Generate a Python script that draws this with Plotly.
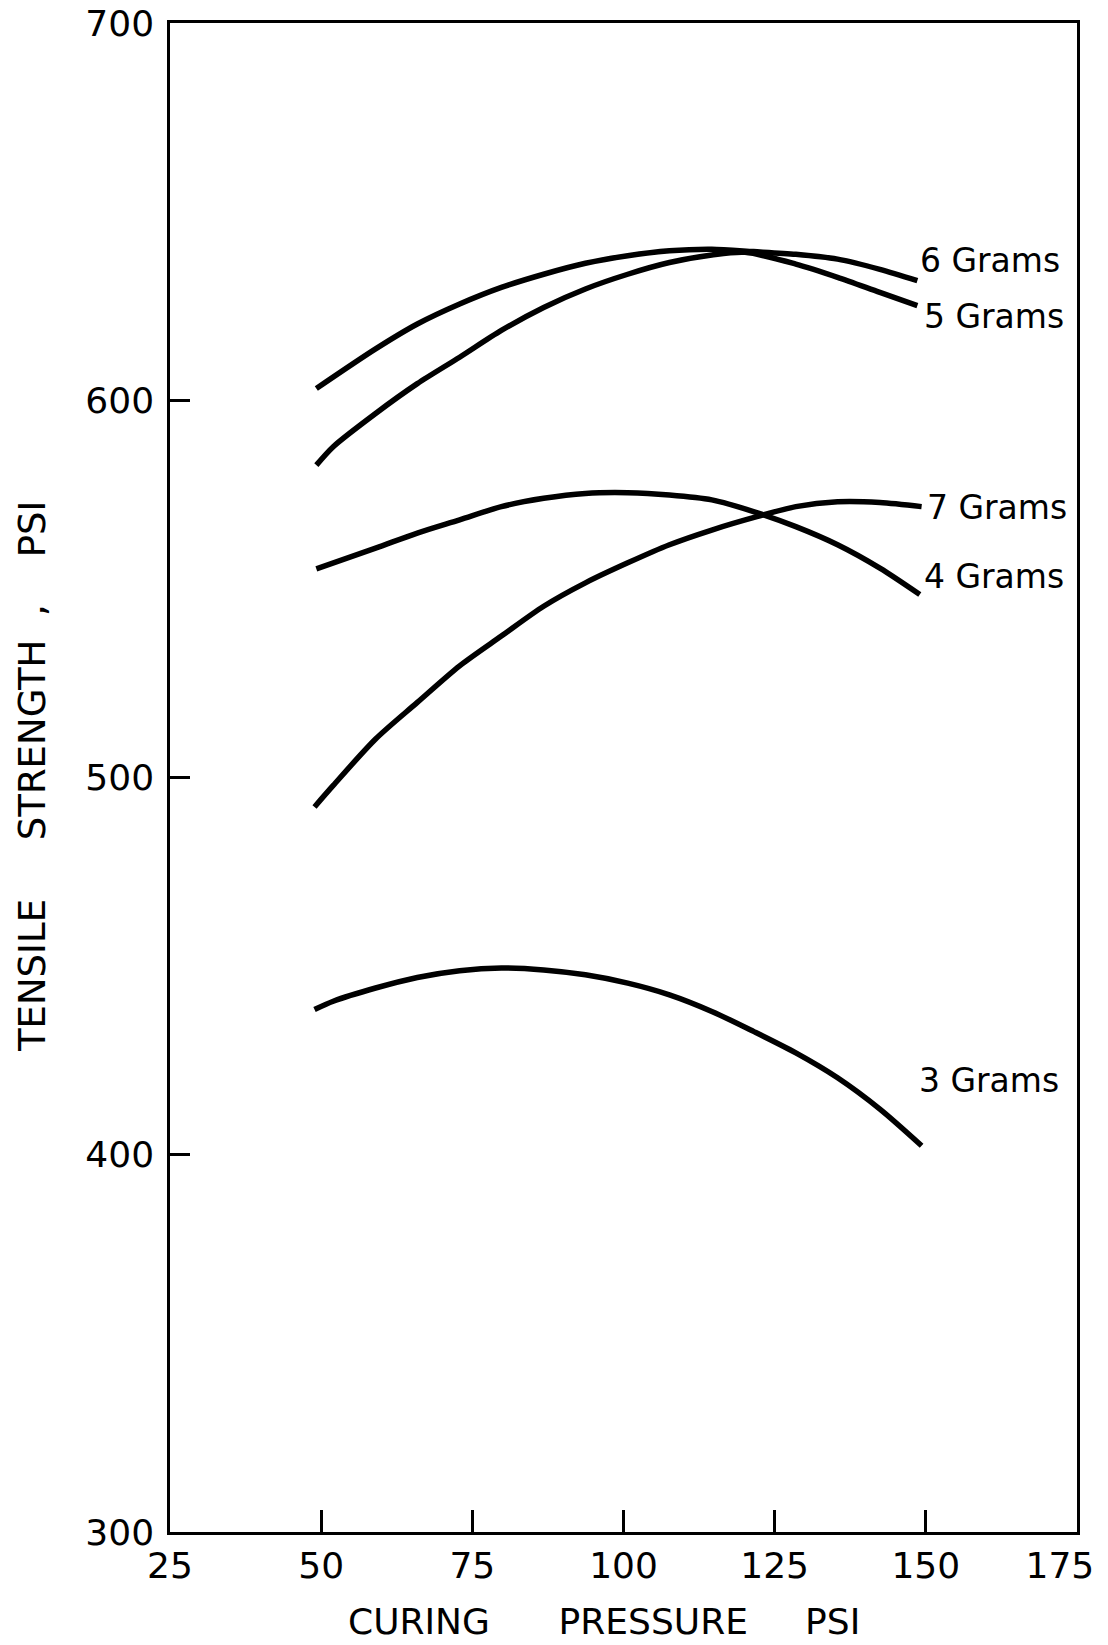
import plotly.graph_objects as go

# ---- data ----
x_3g = [48.9, 52.0, 59.0, 65.9, 72.9, 79.8, 86.8, 93.7, 100.7, 107.6, 114.6, 121.5, 128.5, 135.4, 142.4, 149.3]
y_3g = [438.5, 440.7, 444.2, 447.0, 448.8, 449.5, 449.0, 447.7, 445.5, 442.4, 438.0, 432.7, 427.0, 420.4, 412.1, 402.4]

x_4g = [49.2, 59.0, 65.9, 72.9, 79.8, 86.8, 93.7, 100.7, 107.6, 114.6, 121.5, 128.5, 135.4, 142.4, 149.0]
y_4g = [555.3, 560.8, 564.8, 568.3, 571.8, 574.0, 575.3, 575.5, 574.9, 573.6, 570.5, 566.5, 561.7, 555.5, 548.5]

x_5g = [49.2, 52.0, 59.0, 65.9, 72.9, 79.8, 86.8, 93.7, 100.7, 107.6, 114.6, 120.1, 128.5, 135.4, 142.4, 148.6]
y_5g = [582.8, 587.7, 596.5, 604.4, 611.4, 618.5, 624.6, 629.5, 633.4, 636.5, 638.5, 639.2, 636.1, 632.6, 628.6, 625.1]

x_6g = [49.2, 59.0, 65.9, 72.9, 79.8, 86.8, 93.7, 100.7, 107.6, 114.6, 121.5, 128.5, 135.4, 142.4, 148.6]
y_6g = [603.1, 613.6, 620.2, 625.5, 629.9, 633.4, 636.3, 638.3, 639.6, 640.0, 639.4, 638.7, 637.4, 634.7, 631.7]

x_7g = [48.9, 52.0, 59.0, 65.9, 72.9, 79.8, 86.8, 93.7, 100.7, 107.6, 114.6, 122.2, 128.5, 135.4, 142.4, 149.3]
y_7g = [492.2, 497.9, 510.2, 519.9, 529.6, 537.5, 545.4, 551.6, 556.9, 561.7, 565.6, 569.2, 571.8, 573.1, 572.9, 571.8]

series_names = ["3 Grams", "4 Grams", "5 Grams", "6 Grams", "7 Grams"]
label_x = [148.5, 149.4, 149.4, 148.7, 149.9]
label_y = [419.6, 553.3, 622.1, 637.0, 571.6]

x_ticks = [25, 50, 75, 100, 125, 150, 175]
y_ticks = [300, 400, 500, 600, 700]

NB = "\u00a0"
x_tick_text = [str(v) for v in x_ticks[:-1]] + [str(x_ticks[-1]) + NB * 3]
x_title = "CURING" + NB * 6 + "PRESSURE" + NB * 5 + "PSI"
y_title = "TENSILE" + NB * 5 + "STRENGTH" + NB * 2 + "," + NB * 4 + "PSI"

FONT = "DejaVu Sans"

fig = go.Figure()
for name, xs, ys in zip(series_names,
                        [x_3g, x_4g, x_5g, x_6g, x_7g],
                        [y_3g, y_4g, y_5g, y_6g, y_7g]):
    fig.add_trace(go.Scatter(x=xs, y=ys, mode="lines", name=name,
                             line=dict(color="black", width=5.5, shape="spline", smoothing=0.8),
                             showlegend=False))

for name, lx, ly in zip(series_names, label_x, label_y):
    fig.add_annotation(x=lx, y=ly, text=name, showarrow=False, xanchor="left", yanchor="middle",
                       font=dict(family=FONT, size=33, color="black"))

fig.add_annotation(xref="paper", yref="paper", x=0.478, y=-0.0596, text=x_title, showarrow=False,
                   xanchor="center", yanchor="middle", font=dict(family=FONT, size=36, color="black"))
fig.add_annotation(xref="paper", yref="paper", x=-0.1515, y=0.5007, text=y_title, showarrow=False,
                   textangle=-90, xanchor="center", yanchor="middle",
                   font=dict(family=FONT, size=37, color="black"))

fig.update_layout(
    width=1108, height=1645,
    margin=dict(l=162, r=39, t=15, b=121, autoexpand=False),
    paper_bgcolor="white", plot_bgcolor="white",
    font=dict(family=FONT, color="black"),
)
fig.update_xaxes(range=[25, 175], tickvals=x_ticks, ticktext=x_tick_text,
                 showgrid=False, zeroline=False, showline=True, linecolor="black", linewidth=2.5,
                 mirror=True, ticks="inside", ticklen=22, tickwidth=2.5, tickcolor="black",
                 ticklabelstandoff=0, ticklabeloverflow="allow", automargin=False,
                 tickfont=dict(family=FONT, size=36, color="black"))
fig.update_yaxes(range=[300, 700], tickvals=y_ticks, ticktext=[str(v) for v in y_ticks],
                 showgrid=False, zeroline=False, showline=True, linecolor="black", linewidth=2.5,
                 mirror=True, ticks="inside", ticklen=20, tickwidth=2.5, tickcolor="black",
                 ticklabelstandoff=6, ticklabeloverflow="allow", automargin=False,
                 tickfont=dict(family=FONT, size=36, color="black"))

fig.write_html("out.html")
